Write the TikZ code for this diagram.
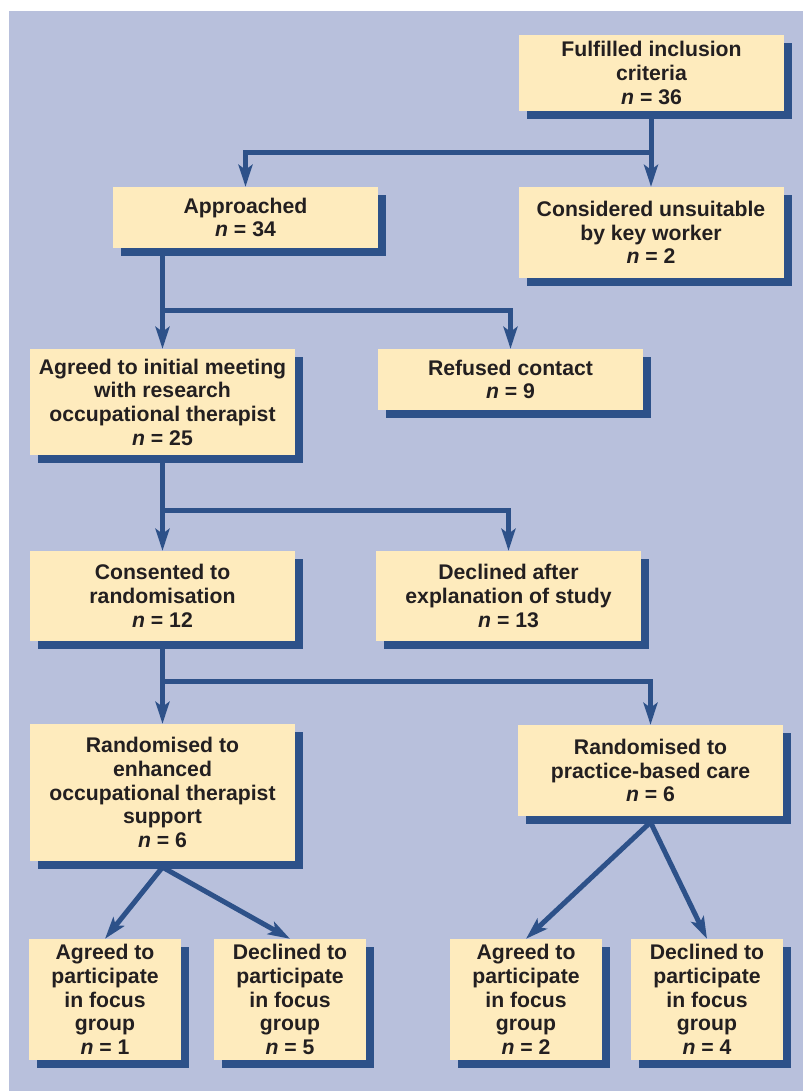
\documentclass[tikz,border=0pt]{standalone}
\usepackage{fontspec}
\setmainfont{Liberation Sans}
\usetikzlibrary{shadows,arrows.meta}
\definecolor{bgblue}{HTML}{B8C0DC}
\definecolor{boxfill}{HTML}{FEEBBD}
\definecolor{sblue}{HTML}{2D5189}
\definecolor{txt}{HTML}{231F20}
\newcommand{\nval}[1]{\textit{n} = #1}
\begin{document}
\begin{tikzpicture}[x=1pt,y=-1pt,
  box/.style={draw=none, fill=boxfill, inner sep=0pt, align=center,
    minimum width=265pt, text=txt,
    font=\fontsize{21.2}{23.7}\selectfont\bfseries,
    general shadow={fill=sblue, shadow xshift=8pt, shadow yshift=-8pt}},
  smallbox/.style={box, minimum width=152pt, minimum height=121pt},
  arr/.style={draw=sblue, line width=5pt,
    -{Stealth[length=22pt,width=14pt,inset=5pt]}},
  link/.style={draw=sblue, line width=5pt}]
\useasboundingbox (0,0) rectangle (803,1091);
\fill[white] (0,0) rectangle (803,1091);
\fill[bgblue] (9,11) rectangle (803,1091);

\node[box, minimum height=76pt] (b1) at (651.5,73) {Fulfilled inclusion\\criteria\\\nval{36}};
\node[box, minimum height=91pt] (b2) at (651,232.5) {Considered unsuitable\\by key worker\\\nval{2}};
\node[box, minimum height=61pt] (b3) at (245.5,217.5) {Approached\\\nval{34}};
\node[box, minimum height=106pt] (b4) at (162.5,402) {Agreed to initial meeting\\with research\\occupational therapist\\\nval{25}};
\node[box, minimum height=61pt] (b5) at (510.5,379.5) {Refused contact\\\nval{9}};
\node[box, minimum height=90pt] (b6) at (162.5,596) {Consented to\\randomisation\\\nval{12}};
\node[box, minimum height=90pt] (b7) at (508.5,596) {Declined after\\explanation of study\\\nval{13}};
\node[box, minimum height=137pt] (b8) at (162.5,792.5) {Randomised to\\enhanced\\occupational therapist\\support\\\nval{6}};
\node[box, minimum height=91pt] (b9) at (650.5,770.5) {Randomised to\\practice-based care\\\nval{6}};
\node[smallbox] (b10) at (105,999.5) {Agreed to\\participate\\in focus\\group\\\nval{1}};
\node[smallbox] (b11) at (290,999.5) {Declined to\\participate\\in focus\\group\\\nval{5}};
\node[smallbox] (b12) at (526,999.5) {Agreed to\\participate\\in focus\\group\\\nval{2}};
\node[smallbox] (b13) at (707,999.5) {Declined to\\participate\\in focus\\group\\\nval{4}};

\coordinate (j1) at (651,153);
\coordinate (j2) at (162.5,310);
\coordinate (j3) at (162.5,510);
\coordinate (j4) at (162.5,681);

\draw[arr] (b1.south -| b2.north) -- (b2.north);
\draw[arr] (j1) -| (b3.north);
\draw[arr] (b3.south -| b4.north) -- (b4.north);
\draw[arr] (j2) -| (b5.north);
\draw[arr] (b4.south) -- (b6.north);
\draw[arr] (j3) -| (b7.north);
\draw[arr] (b6.south) -- (b8.north);
\draw[arr] (j4) -| (b9.north);
\draw[arr] ([yshift=-6pt]b8.south) -- (b10.north);
\draw[arr] ([yshift=-6pt]b8.south) -- (b11.north);
\draw[arr] ([yshift=-6pt]b9.south) -- (b12.north);
\draw[arr] ([yshift=-6pt]b9.south) -- (b13.north);
\end{tikzpicture}
\end{document}
